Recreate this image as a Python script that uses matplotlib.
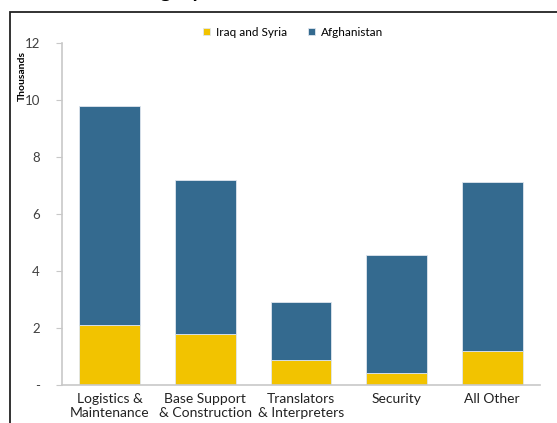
import matplotlib.pyplot as plt
from matplotlib.patches import Rectangle
import numpy as np

# Datos (miles de contratistas)
categorias = ['Logistics &\nMaintenance', 'Base Support\n& Construction',
              'Translators\n& Interpreters', 'Security', 'All Other']
iraq_siria = [2.1, 1.78, 0.87, 0.43, 1.19]
afganistan = [7.68, 5.40, 2.03, 4.14, 5.93]
yticks = [0, 2, 4, 6, 8, 10, 12]
ytick_labels = ['-', '2', '4', '6', '8', '10', '12']

plt.rcParams['font.family'] = ['Lato', 'DejaVu Sans']

fig = plt.figure(figsize=(5.57, 4.23), dpi=100)
ax = fig.add_axes([0.1113, 0.0898, 0.8582, 0.8085])

x = np.arange(len(categorias))
ancho = 0.635
ax.bar(x, iraq_siria, ancho, color='#F2C300', edgecolor='#dfe6ee',
       linewidth=0.6, label='Iraq and Syria')
ax.bar(x, afganistan, ancho, bottom=iraq_siria, color='#346A8F',
       edgecolor='#dfe6ee', linewidth=0.6, label='Afghanistan')

ax.set_xlim(-0.5, 4.5)
ax.set_ylim(0, 12)
ax.set_yticks(yticks)
ax.set_yticklabels(ytick_labels, fontsize=9.5, color='#404040')
ax.set_xticks(x)
ax.set_xticklabels(categorias, fontsize=10, color='#222222',
                   linespacing=1.2)
ax.tick_params(axis='x', length=0, pad=6)
ax.tick_params(axis='y', length=4, color='#c8c8c8', pad=12)

for lado in ['top', 'right']:
    ax.spines[lado].set_visible(False)
ax.spines['left'].set_color('#c8c8c8')
ax.spines['bottom'].set_color('#c8c8c8')
ax.spines['left'].set_linewidth(1.2)
ax.spines['bottom'].set_linewidth(1.2)

ax.legend(loc='center', bbox_to_anchor=(0.483, 1.032), ncol=2,
          frameon=False, fontsize=8.5, handlelength=0.6, handleheight=0.6,
          handletextpad=0.5, columnspacing=1.8)

fig.text(0.040, 0.82, 'Thousands', rotation=90, fontsize=7.5,
         fontweight='bold', ha='center', va='center')

# Marco y titulo cortado
fig.patches.append(Rectangle((10 / 557, -0.1), 1.2, (423 - 12) / 423 + 0.1,
                             transform=fig.transFigure, fill=False,
                             edgecolor='#222222', linewidth=1.3))
fig.text(160 / 557, 1.006, 'Category', fontsize=15, fontweight='bold',
         ha='center', va='baseline')

fig.savefig('out.png', dpi=100)
